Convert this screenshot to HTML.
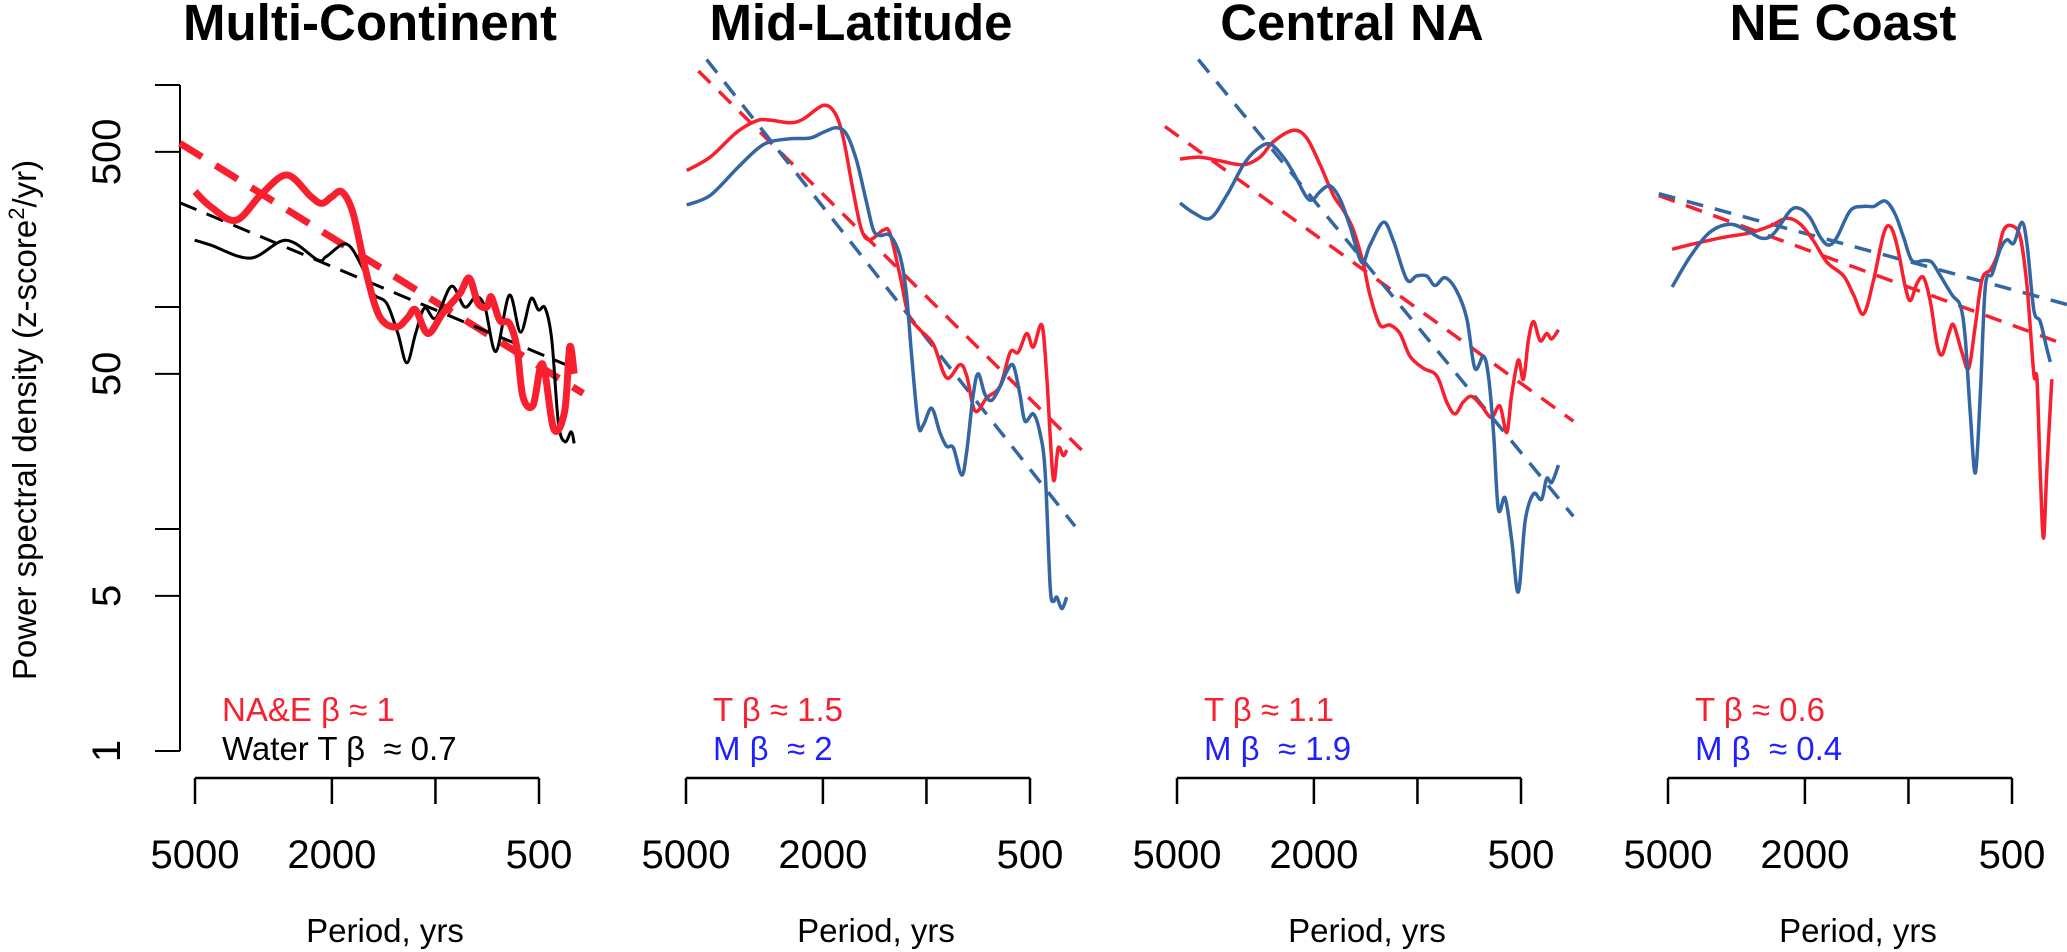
<!DOCTYPE html>
<html><head><meta charset="utf-8">
<style>
html,body{margin:0;padding:0;background:#fff;}
svg{display:block;font-family:"Liberation Sans",Arial,sans-serif;}
</style></head>
<body>
<svg id="chart" width="2067" height="952" viewBox="0 0 2067 952" xmlns="http://www.w3.org/2000/svg"></svg>
<script>
// ---- axis ticks ----
const yTickValues = [1, 5, 10, 50, 100, 500, 1000];
const yTickLabels = ["1", "5", "", "50", "", "500", ""];
const xTickValues = [5000, 2000, 1000, 500];
const xTickLabels = ["5000", "2000", "", "500"];
const panelTitles = ["Multi-Continent", "Mid-Latitude", "Central NA", "NE Coast"];

// ---- Panel 1: Multi-Continent ----
const p1RedPeriods = [5000,4500,3800,3190,2700,2300,2140,2000,1870,1735,1605,1493,1402,1285,1201,1141,1052,951,849,798,752,709,688,650,610,580,557,521,495,480,452,421,407,395];
const p1RedValues  = [331,283,246,325,393,314,293,314,330,264,152,100,84.5,81.5,90,97,76,94,115,135,104,100,111,87,84.5,66,39.5,36,54,50,28,34,66,50];
const p1BlackPeriods = [5010,4500,3450,2720,2200,2075,1815,1635,1517,1387,1286,1211,1142,1076,998,899,822,763,718,667,610,566,528,502,480,459,439,420,403,395];
const p1BlackValues  = [200,190,166,200,163,169,192,152,115,104,76,56,76,99,89,124,100,111,100,63,113,77,109,97,99,71,30,24.7,27.4,24.3];
const p1RedFitPeriods = [5530, 372];
const p1RedFitValues  = [546, 40.8];
const p1BlackFitPeriods = [5530, 395];
const p1BlackFitValues  = [295, 53];

// ---- Panel 2: Mid-Latitude ----
const p2RedPeriods = [4977,4256,3562,3117,2851,2493,2280,1995,1845,1745,1632,1543,1459,1334,1276,1193,1129,1044,955,874,799,764,722,668,611,571,541,511,489,462,447,428,414,400,391];
const p2RedValues  = [412,473,612,690,695,676,703,809,747,577,331,222,201,222,214,138,93,79,68,48,55,49,34,39,44,62.5,62.5,76,66,83,49,16.9,23.2,21.4,22.7];
const p2BluePeriods = [4977,4256,3562,3117,2851,2493,2178,1995,1824,1707,1595,1492,1426,1365,1276,1193,1142,1104,1056,1021,966,914,874,835,790,764,731,707,676,646,611,585,559,535,517,489,468,452,437,428,418,404,391];
const p2BlueValues  = [288,318,420,512,555,573,577,612,642,600,455,294,222,210,210,169,113,60,29.4,29.4,35,27.2,23.6,23.2,17.5,22.3,40.4,50,40.4,38,43.7,51,54.5,40.4,30.6,33,27.2,18.2,5.55,4.73,4.93,4.38,4.93];
const p2RedFitPeriods = [4603, 354];
const p2RedFitValues  = [1156, 22.7];
const p2BlueFitPeriods = [4355, 370];
const p2BlueFitValues  = [1303, 10.3];

// ---- Panel 3: Central NA ----
const p3RedPeriods = [4900,4284,3748,3206,2869,2624,2296,2099,1919,1754,1640,1535,1436,1374,1285,1202,1124,1051,962,879,822,778,736,696,651,609,576,550,532,509,492,476,460,440,421,407,389];
const p3RedValues  = [464,473,455,437,473,555,625,577,437,318,272,222,156,113,83,83,76,60,53,49,37.3,33,37.3,39.6,35.8,31.8,35.8,27.2,40.4,57.7,47.3,70.5,86,70.5,76,71.8,79];
const p3BluePeriods = [4900,4480,4005,3587,3206,2931,2684,2453,2296,2099,2008,1919,1796,1679,1571,1452,1374,1255,1174,1074,1005,940,889,831,769,719,681,643,622,601,582,556,532,509,486,460,436,421,407,389];
const p3BlueValues  = [294,266,251,318,437,512,543,473,403,312,306,331,351,306,231,159,190,241,198,133,138,138,125,135.5,118,89,53,60,49,27.2,12.3,13.8,8.9,5.2,10.9,14.4,13.6,16.9,16.2,19.4];
const p3RedFitPeriods = [5420, 352];
const p3RedFitValues  = [650, 30.6];
const p3BlueFitPeriods = [4335, 352];
const p3BlueFitValues  = [1303, 11.4];

// ---- Panel 4: NE Coast ----
const p4RedPeriods = [4864,4118,3446,2882,2518,2254,2061,1886,1725,1543,1443,1350,1262,1180,1129,1080,1021,987,944,903,863,826,798,763,739,699,668,639,611,578,553,529,500,473,452,432,423,414,405,396,383];
const p4RedValues  = [182,194,206,216,232,251,236,198,159,138,113,93,133,214,230,190,123,107,128,135.5,105,68,61,76,83,62.5,53,83,133,147,169,222,232,206,123,50,47.3,18.2,9.1,18.2,47.3];
const p4BluePeriods = [4864,4306,3767,3296,2946,2665,2464,2203,2061,1928,1803,1706,1614,1475,1350,1262,1167,1092,1033,977,903,855,807,746,706,684,661,639,618,598,571,541,517,494,468,452,432,414,396,387];
const p4BlueValues  = [123,169,218,236,221,204,214,272,277,251,206,190,206,272,284,284,300,261,206,162,162,159,138,113,101,73,33,17.9,40.4,123,141,182,201,194,241,190,97,86,65,56.6];
const p4RedFitPeriods = [5318, 362];
const p4RedFitValues  = [318, 69];
const p4BlueFitPeriods = [5318, 346];
const p4BlueFitValues  = [324, 102.6];

const RED = "#f8202f", BLUE_LINE = "#3366a3", BLUE_TEXT = "#1f1fff";
const svg = document.getElementById('chart');
const NS = "http://www.w3.org/2000/svg";
const PANEL_X0 = [195, 686, 1177, 1668];
const PX_PER_DECADE_X = 344, PX_PER_DECADE_Y = 222, Y_AT_1 = 751;

function xScale(panel, p){ return PANEL_X0[panel] + PX_PER_DECADE_X * (Math.log10(5000) - Math.log10(p)); }
function yScale(v){ return Y_AT_1 - PX_PER_DECADE_Y * Math.log10(v); }

function mk(tag, attrs){
  const el = document.createElementNS(NS, tag);
  for (const k in attrs) el.setAttribute(k, attrs[k]);
  svg.appendChild(el);
  return el;
}
function smoothPath(pts){
  let d = "M" + pts[0][0].toFixed(1) + "," + pts[0][1].toFixed(1);
  for (let i = 0; i < pts.length - 1; i++){
    const p0 = pts[Math.max(0,i-1)], p1 = pts[i], p2 = pts[i+1], p3 = pts[Math.min(pts.length-1,i+2)];
    const c1x = p1[0] + (p2[0]-p0[0])/6, c1y = p1[1] + (p2[1]-p0[1])/6;
    const c2x = p2[0] - (p3[0]-p1[0])/6, c2y = p2[1] - (p3[1]-p1[1])/6;
    d += " C" + c1x.toFixed(1)+","+c1y.toFixed(1)+" "+c2x.toFixed(1)+","+c2y.toFixed(1)+" "+p2[0].toFixed(1)+","+p2[1].toFixed(1);
  }
  return d;
}
function series(panel, periods, values, color, width, dash, name){
  const pts = periods.map((p,i)=>[xScale(panel,p), yScale(values[i])]);
  const el = mk('path', {d: smoothPath(pts), fill:"none", stroke:color, "stroke-width":width, "stroke-linejoin":"round"});
  if (dash) el.setAttribute('stroke-dasharray', dash);
  
  
}
function text(x, y, str, attrs, name){
  const el = mk('text', Object.assign({x:x, y:y}, attrs));
  el.textContent = str;
  el.style.whiteSpace = "pre";
  
  
  return el;
}

// Y axis (panel 1 only)
const yAxis = mk('line', {x1:180, y1:yScale(1000), x2:180, y2:yScale(1), stroke:"#000", "stroke-width":2});


yTickValues.forEach((v,i)=>{
  const t = mk('line', {x1:155, y1:yScale(v), x2:180, y2:yScale(v), stroke:"#000", "stroke-width":2});
  
  
  if (yTickLabels[i]){
    const yy = yScale(v);
    text(120, yy, yTickLabels[i], {"font-size":40, "text-anchor":"middle", transform:"rotate(-90 120 "+yy+")"}, 'y-tick-label');
  }
});
text(36, 420, "", {"font-size":33, "text-anchor":"middle", transform:"rotate(-90 36 420)"}, 'y-axis-title').innerHTML =
  'Power spectral density (z-score<tspan dy="-12" font-size="22">2</tspan><tspan dy="12">/yr)</tspan>';

// X axes + titles
for (let k = 0; k < 4; k++){
  const xa = mk('line', {x1:xScale(k,5000), y1:778, x2:xScale(k,500), y2:778, stroke:"#000", "stroke-width":2.5});
  
  
  xTickValues.forEach((p,i)=>{
    const t = mk('line', {x1:xScale(k,p), y1:778, x2:xScale(k,p), y2:804, stroke:"#000", "stroke-width":2.5});
    
    
    if (xTickLabels[i]) text(xScale(k,p), 868, xTickLabels[i], {"font-size":40, "text-anchor":"middle"}, 'x-tick-label');
  });
  text(PANEL_X0[k] + 190, 942, "Period, yrs", {"font-size":33, "text-anchor":"middle"}, 'x-axis-title');
  text(PANEL_X0[k] + 175, 40, panelTitles[k], {"font-size":51, "font-weight":"bold", "text-anchor":"middle"}, 'panel-title');
}

// Panel 1 series
series(0, p1RedFitPeriods, p1RedFitValues, RED, 7, "26 16", 'na-e-fit-line');
series(0, p1BlackFitPeriods, p1BlackFitValues, "#000", 3, "18 11", 'water-t-fit-line');
series(0, p1BlackPeriods, p1BlackValues, "#000", 3, null, 'water-t-spectrum');
series(0, p1RedPeriods, p1RedValues, RED, 7, null, 'na-e-spectrum');
// Panel 2
series(1, p2RedFitPeriods, p2RedFitValues, RED, 3.5, "17 12", 'midlat-t-fit-line');
series(1, p2BlueFitPeriods, p2BlueFitValues, BLUE_LINE, 3.5, "17 12", 'midlat-m-fit-line');
series(1, p2RedPeriods, p2RedValues, RED, 3.5, null, 'midlat-t-spectrum');
series(1, p2BluePeriods, p2BlueValues, BLUE_LINE, 3.5, null, 'midlat-m-spectrum');
// Panel 3
series(2, p3RedFitPeriods, p3RedFitValues, RED, 3.5, "17 12", 'central-t-fit-line');
series(2, p3BlueFitPeriods, p3BlueFitValues, BLUE_LINE, 3.5, "17 12", 'central-m-fit-line');
series(2, p3RedPeriods, p3RedValues, RED, 3.5, null, 'central-t-spectrum');
series(2, p3BluePeriods, p3BlueValues, BLUE_LINE, 3.5, null, 'central-m-spectrum');
// Panel 4
series(3, p4RedFitPeriods, p4RedFitValues, RED, 3.5, "17 12", 'necoast-t-fit-line');
series(3, p4BlueFitPeriods, p4BlueFitValues, BLUE_LINE, 3.5, "17 12", 'necoast-m-fit-line');
series(3, p4RedPeriods, p4RedValues, RED, 3.5, null, 'necoast-t-spectrum');
series(3, p4BluePeriods, p4BlueValues, BLUE_LINE, 3.5, null, 'necoast-m-spectrum');

// Annotations
text(222, 721, "NA&E β ≈ 1", {"font-size":33, fill:RED}, 'na-e-beta-label');
text(222, 760, "Water T β  ≈ 0.7", {"font-size":33, fill:"#000"}, 'water-beta-label');
const tLabels = ["T β ≈ 1.5", "T β ≈ 1.1", "T β ≈ 0.6"];
const mLabels = ["M β  ≈ 2", "M β  ≈ 1.9", "M β  ≈ 0.4"];
for (let k = 1; k < 4; k++){
  text(PANEL_X0[k] + 27, 721, tLabels[k-1], {"font-size":33, fill:RED}, 't-beta-label');
  text(PANEL_X0[k] + 27, 760, mLabels[k-1], {"font-size":33, fill:BLUE_TEXT}, 'm-beta-label');
}
</script>
</body></html>
